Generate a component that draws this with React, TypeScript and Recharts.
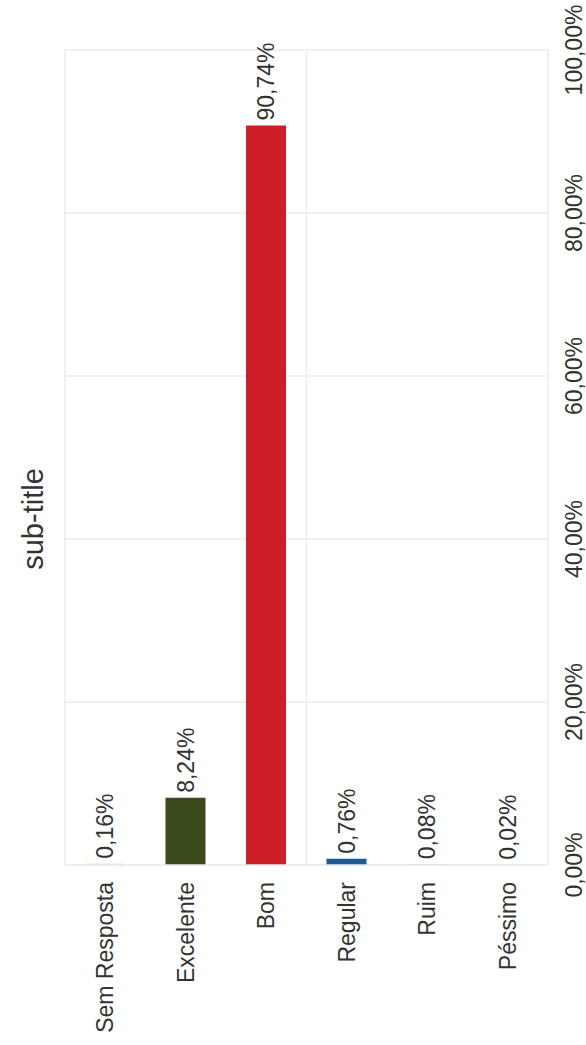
import React from "react";
import { BarChart, Bar, XAxis, YAxis, CartesianGrid, Cell, LabelList } from "recharts";

const title = "sub-title";
const categories = ["Sem Resposta", "Excelente", "Bom", "Regular", "Ruim", "Péssimo"];
const values = [0.16, 8.24, 90.74, 0.76, 0.08, 0.02];
const barColors = ["#e4dc8c", "#3a4a1b", "#cc1f27", "#1b5a97", "#a9bfd6", "#d8b8b8"];
const valueTicks = [0, 20, 40, 60, 80, 100];

const data = categories.map((name, i) => ({ name, value: values[i] }));
const fmt = (v: number) => Number(v).toFixed(2).replace(".", ",") + "%";

const FONT = "'Liberation Sans', Arial, sans-serif";
const TEXT = "#333333";
const GRID = "#e7edf2";
const FS = 23;

const CategoryTick = (props: any) => {
  const { x, y, payload } = props;
  return (
    <text
      x={x}
      y={y}
      transform={`rotate(-90 ${x} ${y})`}
      textAnchor="end"
      dy="0.35em"
      fill={TEXT}
      fontSize={FS}
      fontFamily={FONT}
    >
      {payload.value}
    </text>
  );
};

const ValueTick = (props: any) => {
  const { x, y, payload } = props;
  return (
    <text
      x={x}
      y={y}
      transform={`rotate(-90 ${x} ${y})`}
      textAnchor="middle"
      dy="0.35em"
      fill={TEXT}
      fontSize={FS}
      fontFamily={FONT}
    >
      {fmt(payload.value)}
    </text>
  );
};

const BarLabel = (props: any) => {
  const { x, y, width, value } = props;
  const cx = Number(x) + Number(width) / 2;
  const cy = Number(y) - 5;
  return (
    <text
      x={cx}
      y={cy}
      transform={`rotate(-90 ${cx} ${cy})`}
      textAnchor="start"
      dy="0.35em"
      fill={TEXT}
      fontSize={FS}
      fontFamily={FONT}
    >
      {fmt(value)}
    </text>
  );
};

export default function App() {
  return (
    <div style={{ position: "absolute", left: 0, top: 0, width: 586, height: 1045, background: "#fff" }}>
      <BarChart
        width={586}
        height={1045}
        data={data}
        margin={{ top: 50, right: 0, left: 65, bottom: 0 }}
      >
        <CartesianGrid
          stroke={GRID}
          strokeWidth={1.5}
          verticalCoordinatesGenerator={({ offset }: any) => [offset.left, offset.left + offset.width / 2]}
        />
        <XAxis
          type="category"
          dataKey="name"
          height={180}
          tickLine={false}
          tickSize={0}
          tickMargin={17}
          axisLine={{ stroke: GRID, strokeWidth: 1.5 }}
          tick={<CategoryTick />}
          interval={0}
        />
        <YAxis
          type="number"
          orientation="right"
          domain={[0, 100]}
          ticks={valueTicks}
          width={38}
          tickLine={false}
          tickSize={0}
          tickMargin={26}
          axisLine={{ stroke: GRID, strokeWidth: 1.5 }}
          tick={<ValueTick />}
          interval={0}
        />
        <Bar dataKey="value" barSize={40} isAnimationActive={false}>
          {data.map((d, i) => (
            <Cell key={d.name} fill={barColors[i]} />
          ))}
          <LabelList dataKey="value" content={<BarLabel />} />
        </Bar>
      </BarChart>
      <svg
        width={586}
        height={1045}
        style={{ position: "absolute", left: 0, top: 0, pointerEvents: "none" }}
      >
        <text
          x={43}
          y={519}
          transform="rotate(-90 43 519)"
          textAnchor="middle"
          fill={TEXT}
          fontSize={29}
          fontFamily={FONT}
        >
          {title}
        </text>
      </svg>
    </div>
  );
}
